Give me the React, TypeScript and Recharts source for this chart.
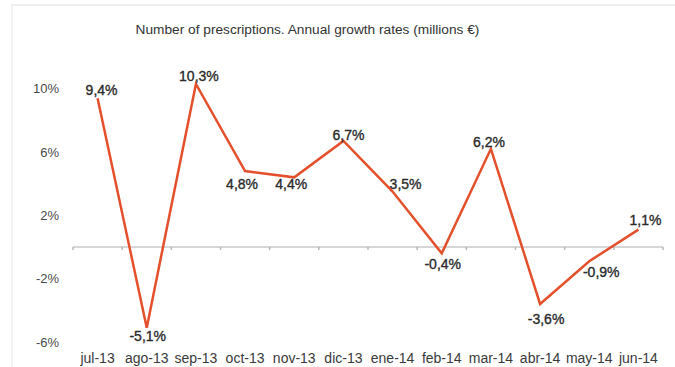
import React from 'react';
import { LineChart, Line, XAxis, YAxis, ReferenceLine, LabelList } from 'recharts';

const months = ['jul-13', 'ago-13', 'sep-13', 'oct-13', 'nov-13', 'dic-13', 'ene-14', 'feb-14', 'mar-14', 'abr-14', 'may-14', 'jun-14'];
const growth = [9.4, -5.1, 10.3, 4.8, 4.4, 6.7, 3.5, -0.4, 6.2, -3.6, -0.9, 1.1];
const yTicks = [-6, -2, 2, 6, 10];
const title = 'Number of prescriptions. Annual growth rates (millions €)';

// label placement (dx, dy) relative to each point
const labelOffsets: [number, number][] = [
  [4, -8], [1, 8], [3, -8], [-3, 13], [-3, 7], [5, -6],
  [13, -8], [1, 11], [-2, -7], [6, 15], [12, 11], [7, -10],
];

const data = months.map((m, i) => ({ month: m, value: growth[i] }));

const FONT = '"Liberation Sans", Arial, Helvetica, sans-serif';

const fmt = (v: number) => v.toFixed(1).replace('.', ',') + '%';

const ZeroLine = (props: any) => {
  const { x1, x2, y1 } = props;
  const n = months.length;
  const step = (x2 - x1) / n;
  const ticks = [];
  for (let i = 0; i <= n; i++) {
    const x = x1 + i * step;
    ticks.push(<line key={i} x1={x} x2={x} y1={y1} y2={y1 + 3} stroke="#b8b8b8" strokeWidth={1.5} />);
  }
  return (
    <g>
      <line x1={x1} x2={x2} y1={y1} y2={y1} stroke="#c8c8c8" strokeWidth={1.5} />
      {ticks}
    </g>
  );
};

const DataLabel = (props: any) => {
  const { x, y, value, index } = props;
  const [dx, dy] = labelOffsets[index] || [0, -8];
  return (
    <text x={x + dx} y={y + dy} textAnchor="middle" dominantBaseline="central" fill="#2a2a2a"
      stroke="#2a2a2a" strokeWidth={0.35} fontSize={14} fontFamily={FONT}>
      {fmt(value)}
    </text>
  );
};

export default function App() {
  return (
    <div style={{ position: 'absolute', left: 0, top: 0, width: 675, height: 367, background: '#fff', fontFamily: FONT }}>
      <div style={{ position: 'absolute', left: 11, top: 4, width: 664, height: 363, borderTop: '2px solid #eeeeee', borderLeft: '2px solid #f2f2f2' }} />
      <div style={{ position: 'absolute', left: 0, top: 22, width: 615, textAlign: 'center', fontSize: 13.7, lineHeight: '16px', color: '#333' }}>{title}</div>
      <LineChart width={675} height={367} data={data} margin={{ top: 57, right: 12, bottom: 3, left: 0 }}>
        <XAxis dataKey="month" scale="band" axisLine={false} tickLine={false} height={22} tickMargin={5}
          tick={{ fill: '#3a3a3a', fontSize: 14, fontFamily: FONT }} interval={0} />
        <YAxis domain={[-6, 12]} ticks={yTicks} width={73} axisLine={false} tickLine={false} tickMargin={8}
          tickFormatter={(v: number) => v + '%'} tick={{ fill: '#4a4a4a', fontSize: 13, fontFamily: FONT }} />
        <ReferenceLine y={0} shape={ZeroLine} />
        <Line type="linear" dataKey="value" stroke="#e4502c" strokeWidth={2.5} dot={false} isAnimationActive={false}>
          <LabelList dataKey="value" content={DataLabel} />
        </Line>
      </LineChart>
    </div>
  );
}
